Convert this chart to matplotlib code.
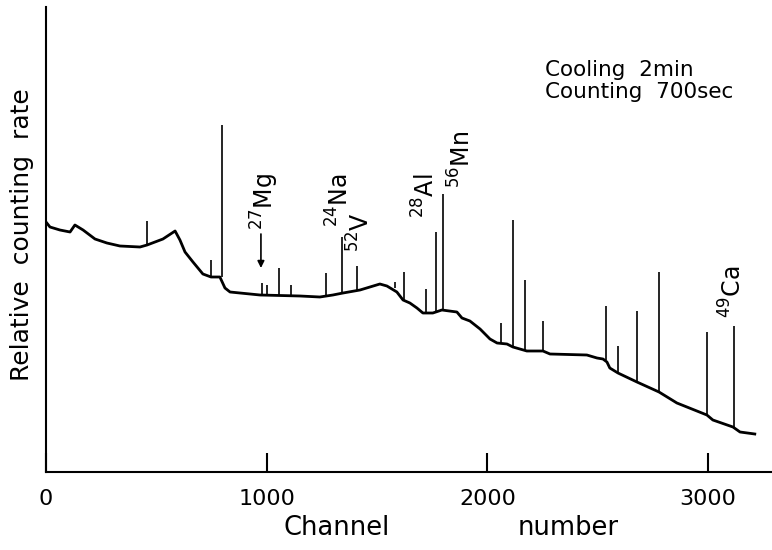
import matplotlib
matplotlib.use("Agg")
import matplotlib.pyplot as plt
import numpy as np

plt.rcParams['font.family'] = ['DejaVu Sans']
plt.rcParams['mathtext.fontset'] = 'dejavusans'

# Continuum (baseline) of the spectrum: channel, relative counting rate
base_ch = [0, 18, 63, 109, 131, 168, 222, 276, 335, 426, 458, 530, 585, 607, 630,
           666, 711, 748, 788, 811, 834, 879, 970, 1151, 1241, 1300, 1346, 1423,
           1513, 1545, 1590, 1618, 1649, 1681, 1708, 1753, 1794, 1862, 1885, 1921,
           1967, 2012, 2044, 2089, 2116, 2179, 2252, 2284, 2451, 2497, 2524, 2542,
           2555, 2592, 2678, 2778, 2859, 2995, 3022, 3113, 3145, 3212]
base_val = [250, 245, 242, 240, 247, 242, 233, 229, 226, 225, 227, 233, 241, 232, 220,
            210, 198, 195, 195, 184, 180, 179, 177, 176, 175, 177, 179, 182,
            188, 186, 180, 172, 169, 164, 159, 159, 162, 160, 154, 151,
            143, 133, 129, 128, 125, 121, 121, 118, 117, 114, 113, 110,
            104, 99, 90, 80, 69, 57, 52, 45, 40, 38]

# Photopeaks: channel, foot of the peak, top of the peak
peak_ch = [459, 746, 797, 977, 1000, 1056, 1110, 1267, 1343, 1411, 1581, 1624,
           1720, 1769, 1797, 2062, 2118, 2172, 2254, 2540, 2594, 2678, 2779, 2994, 3119]
peak_base = [227, 195, 195, 177, 177, 176, 176, 175, 178, 181, 184, 172,
             159, 160, 162, 129, 125, 121, 121, 112, 99, 90, 80, 57, 44]
peak_top = [251, 212, 347, 189, 187, 204, 187, 199, 235, 206, 190, 200,
            183, 240, 278, 149, 252, 192, 151, 166, 126, 161, 200, 140, 146]

# Isotope labels: text, x (channel), y (bottom of label)
iso_text = [r"$^{27}$Mg", r"$^{24}$Na", r"$^{52}$V", r"$^{28}$Al", r"$^{56}$Mn", r"$^{49}$Ca"]
iso_x = [990, 1332, 1427, 1722, 1886, 3113]
iso_y = [242, 245, 220, 254, 284, 154]

xticks = [0, 1000, 2000, 3000]

fig = plt.figure(figsize=(7.72, 5.5), dpi=100)
ax = fig.add_axes([46/772, 78/550, 726/772, 465/550])

ax.plot(base_ch, base_val, color='black', lw=2.0, solid_joinstyle='round')
ax.vlines(peak_ch, peak_base, peak_top, color='black', lw=1.2)

for t, x, y in zip(iso_text, iso_x, iso_y):
    ax.text(x, y, t, rotation=90, ha='center', va='bottom', fontsize=17)

# arrow for 27Mg
ax.annotate('', xy=(974, 204), xytext=(974, 238),
            arrowprops=dict(arrowstyle='-|>', color='black', lw=1.2,
                            mutation_scale=10, shrinkA=0, shrinkB=0))

ax.text(2261, 402, "Cooling  2min", ha='left', va='center', fontsize=15.5)
ax.text(2261, 380, "Counting  700sec", ha='left', va='center', fontsize=15.5)

ax.set_xlim(0, 3290)
ax.set_ylim(0, 465)
ax.set_xticks(xticks)
ax.set_xticklabels([str(v) for v in xticks], fontsize=16)
ax.set_yticks([])
ax.tick_params(axis='x', direction='in', length=14, width=1.5, pad=12)
for s in ['top', 'right']:
    ax.spines[s].set_visible(False)
for s in ['left', 'bottom']:
    ax.spines[s].set_linewidth(1.5)

fig.text(337/772, 1 - 528/550, "Channel", ha='center', va='center', fontsize=18.5)
fig.text(568/772, 1 - 528/550, "number", ha='center', va='center', fontsize=18.5)
fig.text(22/772, 1 - 235/550, "Relative  counting  rate", ha='center', va='center',
         rotation=90, fontsize=18)

fig.savefig("out.png", dpi=100)
